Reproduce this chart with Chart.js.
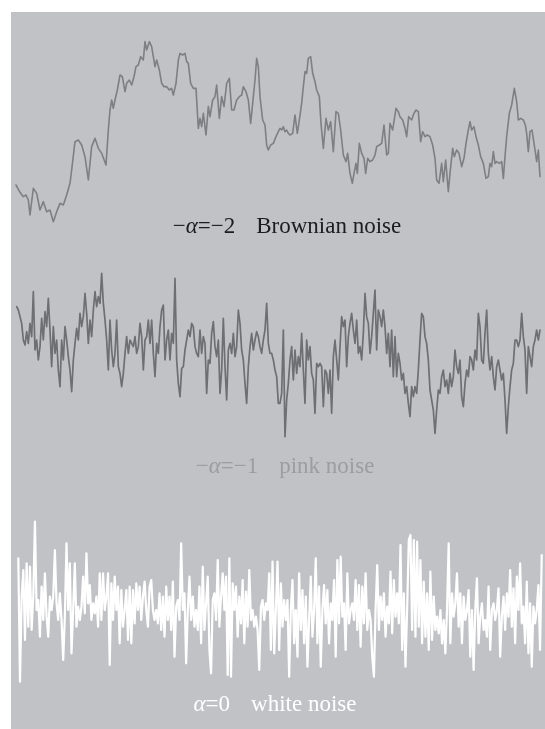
<!DOCTYPE html>
<html>
<head>
<meta charset="utf-8">
<title>Brownian, pink and white noise</title>
<style>
  html, body { margin: 0; padding: 0; background: #ffffff; }
  #panel { position: absolute; left: 11px; top: 12px; width: 534px; height: 717px; background: #c1c2c6; }
  canvas { display: block; }
</style>
<script src="https://cdn.jsdelivr.net/npm/chart.js@4.4.1/dist/chart.umd.min.js"></script>
</head>
<body>
<div id="panel"><canvas id="noise" width="534" height="717"></canvas></div>
<script>
// Brownian noise (-alpha = -2): sample times and levels
const brownT = [
  48,55,62,70,78,85,90,100,110,120,130,140,150,160,170,180,190,200,210,215,
  225,235,245,255,265,275,285,295,305,318,325,330,335,340,345,352,360,367,375,380,
  388,395,402,408,415,422,430,435,440,448,455,460,465,470,478,485,492,500,508,515,
  520,528,535,540,548,555,560,565,572,580,588,595,600,605,610,618,625,630,638,645,
  650,658,665,672,680,688,695,702,710,718,725,730,738,745,752,760,765,770,775,780,
  788,795,800,805,812,820,828,835,840,845,850,855,860,865,870,878,885,892,898,905,
  910,915,920,925,932,938,945,950,958,963,970,978,985,992,1000,1008,1015,1022,1030,1038,
  1043,1050,1057,1062,1068,1072,1078,1085,1092,1097,1103,1110,1118,1125,1130,1138,1145,1152,1160,1165,
  1170,1178,1188,1195,1200,1208,1215,1220,1226,1235,1242,1248,1255,1262,1268,1275,1282,1290,1298,1305,
  1310,1317,1325,1330,1337,1345,1350,1358,1363,1370,1377,1385,1392,1398,1405,1410,1415,1422,1428,1435,
  1442,1450,1458,1465,1470,1475,1480,1485,1490,1498,1505,1510,1515,1520,1528,1535,1543,1550,1555,1562,
  1570,1576,1580,1585,1590,1596,1605,1610,1615,1620
];
const brownV = [
  135,122,110,100,105,90,45,125,110,60,85,55,60,25,55,80,75,105,140,180,
  265,270,255,220,150,250,275,245,230,195,300,360,390,365,390,420,465,460,415,440,
  450,435,460,490,495,520,510,565,540,565,550,520,490,510,480,440,430,430,420,425,
  405,440,510,530,525,530,505,500,440,425,425,305,335,310,350,285,370,340,390,400,
  435,335,400,370,440,455,360,360,390,400,405,430,415,390,320,400,450,515,490,400,
  330,315,255,240,255,260,280,295,305,300,310,295,300,290,285,290,345,290,330,380,
  430,475,470,515,520,470,445,420,400,320,245,335,300,325,235,355,350,300,225,205,
  230,170,140,170,200,170,260,230,215,170,215,205,210,225,250,255,260,315,225,230,
  320,300,365,355,340,330,305,280,340,330,350,360,355,265,295,280,285,280,255,215,
  150,140,200,145,210,115,170,245,220,240,230,190,215,260,300,325,300,310,280,255,
  220,200,155,160,200,190,235,200,205,200,205,155,220,280,350,375,425,385,330,335,
  330,315,290,235,295,300,240,205,240,160
];

// Pink noise (-alpha = -1): levels at evenly spaced samples
const pinkV = [
  400,390,370,350,300,285,325,290,350,310,
  445,270,300,240,280,365,300,385,340,425,
  330,220,340,260,300,210,160,300,240,340,
  300,250,210,145,240,290,335,300,380,340,
  370,440,380,290,360,310,390,445,400,430,
  410,500,410,360,300,210,360,270,220,260,
  360,220,200,160,200,260,310,260,300,290,
  280,310,260,280,350,310,210,300,310,360,
  290,360,260,190,290,260,340,390,405,240,
  300,330,240,320,290,485,240,170,130,215,
  220,270,300,330,310,350,340,280,260,250,
  330,260,310,290,140,240,230,320,355,280,
  250,300,140,210,365,220,120,270,290,260,
  320,250,280,390,350,270,240,170,110,220,
  280,320,270,300,325,310,280,260,300,330,
  410,290,260,260,240,210,190,110,110,
  140,330,10,120,170,240,280,180,270,200,
  250,220,320,210,110,300,240,280,200,180,
  80,230,220,230,220,100,210,200,140,210,
  80,250,300,240,180,280,370,340,360,220,
  310,350,380,330,290,360,260,280,240,320,
  440,370,350,260,310,380,450,270,390,370,
  340,390,340,260,320,220,330,190,310,190,
  260,230,180,200,140,160,110,70,160,130,
  160,140,210,300,380,370,310,290,240,150,
  120,90,20,90,150,140,190,210,160,180,
  140,200,160,190,270,220,200,240,130,100,
  170,210,190,250,240,210,270,240,380,340,
  240,230,320,390,260,210,250,190,150,220,
  240,210,180,200,120,20,100,160,210,230,
  300,300,280,300,380,310,270,140,280,250,
  220,280,300,330,300,330
];

// White noise (alpha = 0): levels at evenly spaced samples
const whiteV = [
  395,25,280,360,150,380,190,370,180,280,
  505,240,270,160,310,210,350,220,160,280,
  240,280,420,260,210,290,210,90,220,440,
  240,380,110,240,380,190,250,210,250,340,
  230,410,260,315,210,260,230,280,190,350,
  210,350,240,280,350,75,320,210,340,240,
  310,140,300,190,240,300,150,310,140,300,
  200,320,240,310,210,280,
  325,240,190,310,330,240,210,240,200,290,
  180,280,160,310,210,280,180,325,100,250,
  270,210,440,240,290,80,240,340,210,280,
  190,240,180,310,140,370,180,260,340,120,
  50,270,290,210,390,190,280,350,240,340,
  45,395,40,320,240,310,160,280,200,330,
  140,295,190,360,210,240,190,220,180,60,
  250,270,210,260,240,350,120,385,110,240,
  385,120,320,190,270,210,270,40,240,330,
  140,240,100,350,180,300,140,280,70,210,
  340,160,240,395,140,310,70,240,315,200,
  300,140,260,210,330,100,390,200,400,220,
  260,120,350,200,240,260,210,330,180,315,
  130,310,200,350,180,240,210,100,40,240,
  375,180,280,210,290,160,250,200,355,170,
  330,220,290,200,435,120,290,70,240,450,
  465,180,450,160,445,190,390,140,325,160,
  290,120,355,150,280,180,220,170,240,140,
  210,110,240,440,140,290,220,260,350,190,
  290,140,280,210,240,300,100,240,60,240,
  335,140,220,260,180,210,160,310,120,240,
  260,210,240,305,100,220,280,180,290,220,
  360,190,305,140,340,240,380,200,250,140,
  325,110,260,70,250,200,240,315,120,405
];

// Caption for each trace: math part (segments, italic flag) and name
const captionMath = [
  [['\u2212', false], ['\u03b1', true], ['=\u22122', false]],
  [['\u2212', false], ['\u03b1', true], ['=\u22121', false]],
  [['\u03b1', true], ['=0', false]]
];
const captionName = ['Brownian noise', 'pink noise', 'white noise'];

// Caption placement and colours (canvas pixels)
const captionStyle = [
  { cx: 276, base: 221, color: '#1c1c1e' },
  { cx: 274, base: 461, color: '#9c9da0' },
  { cx: 264, base: 699, color: '#ffffff' }
];
const FONT_SIZE = 23;
const GAP = 21;

const captionPlugin = {
  id: 'captions',
  afterDatasetsDraw(chart) {
    const ctx = chart.ctx;
    ctx.save();
    ctx.textBaseline = 'alphabetic';
    ctx.textAlign = 'left';
    const normal = FONT_SIZE + 'px "Liberation Serif", "DejaVu Serif", serif';
    const italic = 'italic ' + normal;
    captionMath.forEach((parts, k) => {
      const st = captionStyle[k];
      let w = 0;
      const widths = parts.map(([txt, it]) => {
        ctx.font = it ? italic : normal;
        const m = ctx.measureText(txt).width;
        w += m;
        return m;
      });
      ctx.font = normal;
      const nameW = ctx.measureText(captionName[k]).width;
      const total = w + GAP + nameW;
      let x = st.cx - total / 2;
      ctx.fillStyle = st.color;
      parts.forEach(([txt, it], j) => {
        ctx.font = it ? italic : normal;
        ctx.fillText(txt, x, st.base);
        x += widths[j];
      });
      x += GAP;
      ctx.font = normal;
      ctx.fillText(captionName[k], x, st.base);
    });
    ctx.restore();
  }
};

const hidden = (min, max) => ({ type: 'linear', display: false, min, max });

new Chart(document.getElementById('noise'), {
  type: 'line',
  data: {
    datasets: [
      {
        label: 'Brownian noise',
        data: brownT.map((t, i) => ({ x: t, y: brownV[i] })),
        xAxisID: 'xB', yAxisID: 'yB',
        borderColor: '#7e7f82', borderWidth: 1.6
      },
      {
        label: 'pink noise',
        data: pinkV.map((v, i) => ({ x: i, y: v })),
        xAxisID: 'xP', yAxisID: 'yP',
        borderColor: '#6e6f72', borderWidth: 1.7
      },
      {
        label: 'white noise',
        data: whiteV.map((v, i) => ({ x: i, y: v })),
        xAxisID: 'xW', yAxisID: 'yW',
        borderColor: '#ffffff', borderWidth: 2.2
      }
    ]
  },
  options: {
    responsive: false,
    animation: false,
    devicePixelRatio: 1,
    layout: { padding: 0 },
    elements: {
      point: { radius: 0, hoverRadius: 0 },
      line: { tension: 0, borderJoinStyle: 'round', borderCapStyle: 'round', fill: false }
    },
    plugins: { legend: { display: false }, tooltip: { enabled: false } },
    events: [],
    scales: {
      xB: hidden(33, 1635),
      yB: hidden(-1497, 654),
      xP: hidden(-3.4, 317),
      yP: hidden(-867, 1284),
      xW: hidden(-4.41, 316.97),
      yW: hidden(-117, 2034)
    }
  },
  plugins: [captionPlugin]
});
</script>
</body>
</html>
